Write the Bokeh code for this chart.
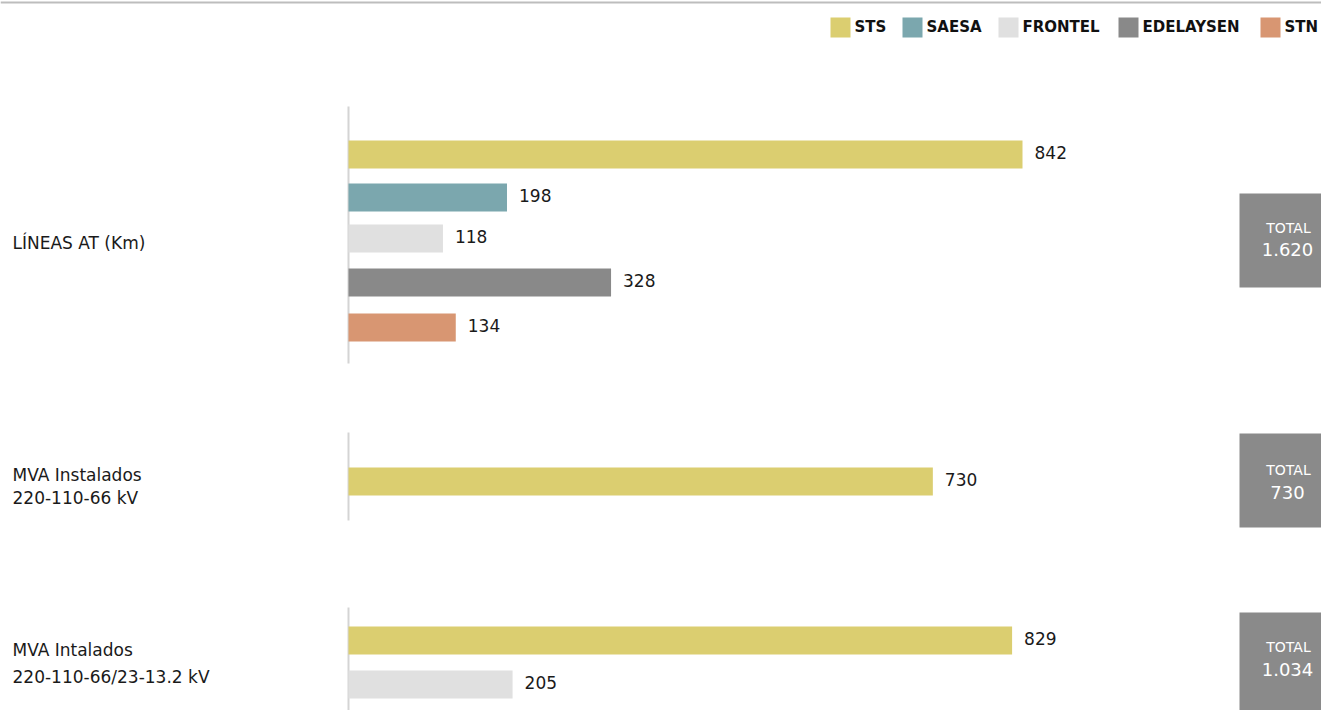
from bokeh.plotting import figure
from bokeh.models import Range1d, ColumnDataSource
from bokeh.core.properties import value
from bokeh.embed import file_html
from bokeh.resources import INLINE

# ---------------- data ----------------
companies = ["STS", "SAESA", "FRONTEL", "EDELAYSEN", "STN"]
company_colors = ["#dbce70", "#7ba7ae", "#e0e0e0", "#898989", "#d89672"]

group_labels = [
    ["LÍNEAS AT (Km)"],
    ["MVA Instalados", "220-110-66 kV"],
    ["MVA Intalados", "220-110-66/23-13.2 kV"],
]
lineas_companies = ["STS", "SAESA", "FRONTEL", "EDELAYSEN", "STN"]
lineas_values = [842, 198, 118, 328, 134]
mva1_companies = ["STS"]
mva1_values = [730]
mva2_companies = ["STS", "FRONTEL"]
mva2_values = [829, 205]

groups = [
    (lineas_companies, lineas_values),
    (mva1_companies, mva1_values),
    (mva2_companies, mva2_values),
]

# ---------------- layout ----------------
W, H = 1321, 710
X0 = 348                      # pixel position of the zero line
K = (1022 - X0) / 842.0       # pixels per unit


def px(xpix):
    return (xpix - X0) / K


FONT = value("DejaVu Sans")

p = figure(width=W, height=H, output_backend="svg", toolbar_location=None,
           x_range=Range1d(px(0), px(W)), y_range=Range1d(H, 0),
           min_border=0, outline_line_color=None)
p.axis.visible = False
p.grid.visible = False
p.background_fill_color = "white"
p.border_fill_color = "white"

# top rule
p.segment(x0=[px(0)], x1=[px(W)], y0=[2], y1=[2], line_color="#bdbdbd", line_width=2)

# legend
leg_sq_x = [830, 902, 998, 1118, 1260]
for name, col, sx in zip(companies, company_colors, leg_sq_x):
    p.quad(left=[px(sx)], right=[px(sx + 20)], top=[17], bottom=[37],
           fill_color=col, line_color=None)
    p.text(x=[px(sx + 24)], y=[26.5], text=[name], text_font=FONT,
           text_font_size="15px", text_font_style="bold", text_color="#111111",
           text_baseline="middle", text_align="left")

# per-group geometry
bar_centers = [[154, 197, 238, 282, 327], [481], [640, 684]]
axis_spans = [(106, 363), (432, 520), (607, 710)]
label_y = [[242], [474, 497], [649, 676]]
box_spans = [(193, 287), (433, 527), (612, 712)]
total_y = [(227, 249), (469, 492), (646, 669)]

color_of = dict(zip(companies, company_colors))

for gi, (comps, vals) in enumerate(groups):
    a0, a1 = axis_spans[gi]
    p.segment(x0=[0], x1=[0], y0=[a0], y1=[a1], line_color="#d4d4d4", line_width=2)

    src = ColumnDataSource(dict(
        y=bar_centers[gi][:len(vals)],
        ty=[c - 2 for c in bar_centers[gi][:len(vals)]],
        right=vals,
        color=[color_of[c] for c in comps],
        label=[str(v) for v in vals],
        lx=[v + 12 / K for v in vals],
    ))
    p.hbar(y="y", left=0, right="right", height=28, fill_color="color",
           line_color=None, source=src)
    p.text(x="lx", y="ty", text="label", source=src, text_font=FONT,
           text_font_size="17px", text_color="#1a1a1a",
           text_baseline="middle", text_align="left")

    # category labels
    for line, ly in zip(group_labels[gi], label_y[gi]):
        p.text(x=[px(12)], y=[ly], text=[line], text_font=FONT,
               text_font_size="17px", text_color="#1a1a1a",
               text_baseline="middle", text_align="left")

    # total box
    b0, b1 = box_spans[gi]
    p.quad(left=[px(1239)], right=[px(W)], top=[b0], bottom=[b1],
           fill_color="#8a8a8a", line_color=None)
    total = sum(vals)
    total_txt = f"{total:,}".replace(",", ".")
    ty0, ty1 = total_y[gi]
    p.text(x=[px(1288)], y=[ty0], text=["TOTAL"], text_font=FONT,
           text_font_size="14px", text_color="white",
           text_baseline="middle", text_align="center")
    p.text(x=[px(1287)], y=[ty1], text=[total_txt], text_font=FONT,
           text_font_size="18px", text_color="white",
           text_baseline="middle", text_align="center")

open("out.html", "w").write(file_html(p, INLINE))
